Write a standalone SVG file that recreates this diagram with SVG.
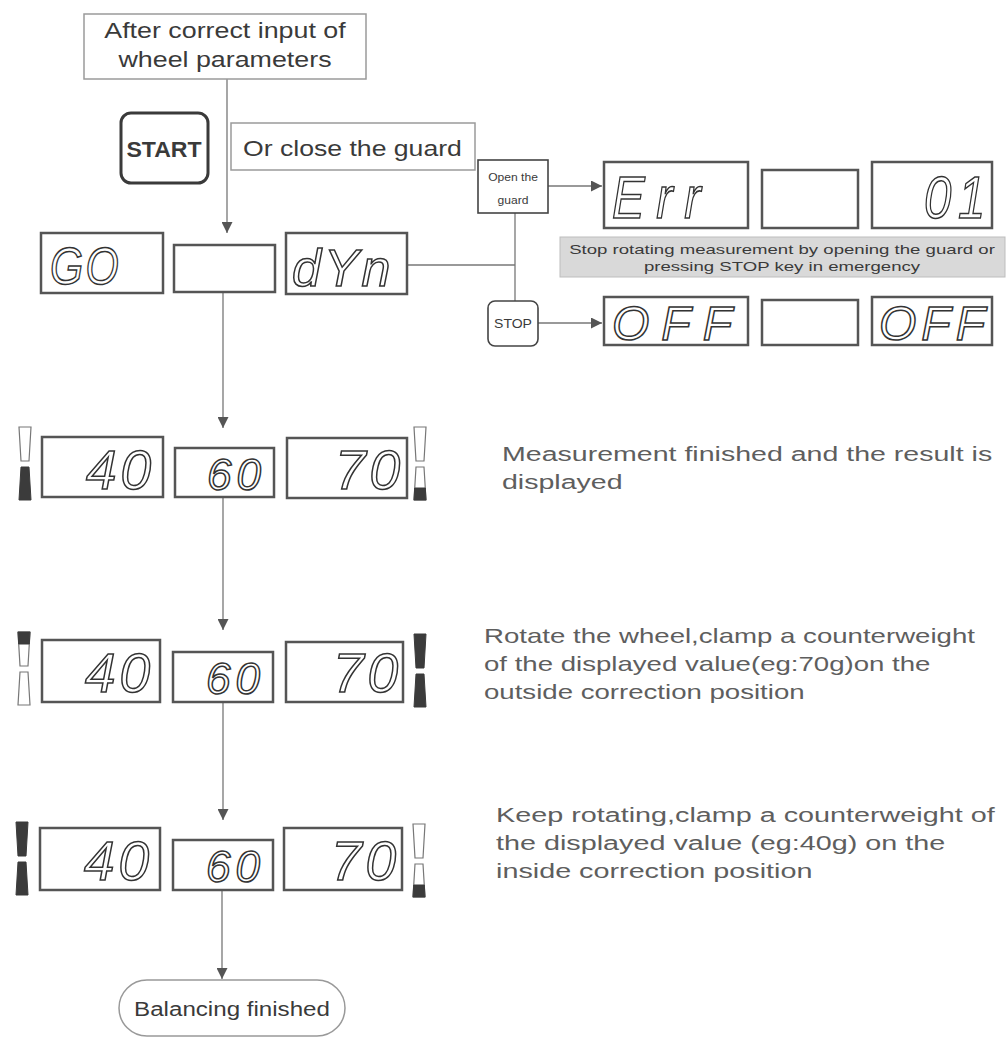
<svg xmlns="http://www.w3.org/2000/svg" xmlns:xlink="http://www.w3.org/1999/xlink" width="1008" height="1040" viewBox="0 0 1008 1040">
  <defs>
    <style>
      .lbl { font-family: "Liberation Sans", Arial, sans-serif; fill: #3a3a3a; }
      .desc { font-family: "Liberation Sans", Arial, sans-serif; fill: #5e5e5e; font-size: 21px; }
      .box { fill: #fff; stroke: #9a9a9a; stroke-width: 1.5; }
      .key { fill: #fff; stroke: #444; stroke-width: 1.6; }
      .lcd { fill: #fff; stroke: #555; stroke-width: 2.5; }
      .seg { font-family: "Liberation Sans", Arial, sans-serif; font-style: italic; fill: #fff; stroke: #333; stroke-width: 1.5; }
      .wire { fill: none; stroke: #777; stroke-width: 1.3; }
      .io { fill: #fff; stroke: #777; stroke-width: 1.2; }
      .if { fill: #3b3b3b; stroke: #3b3b3b; stroke-width: 1; }
    </style>
    <marker id="arrow" viewBox="0 0 10 10" refX="10" refY="5" markerWidth="11" markerHeight="11" markerUnits="userSpaceOnUse" orient="auto">
      <path d="M0,0 L10,5 L0,10 Z" fill="#555"/>
    </marker>
    <!-- balance indicator segments (14 x 73) -->
    <path id="iTop" d="M1,0 H13 L11,34 H3 Z"/>
    <path id="iBot" d="M3,40 H11 L13,73 H1 Z"/>
    <path id="iTopCap" d="M1,0 H13 L12.3,12 H1.7 Z"/>
    <path id="iBotCap" d="M1.7,61 H12.3 L13,73 H1 Z"/>
  </defs>

  <rect x="0" y="0" width="1008" height="1040" fill="#fff"/>

  <!-- connectors -->
  <g id="connectors">
    <line class="wire" x1="227" y1="79" x2="227" y2="233" marker-end="url(#arrow)"/>
    <line class="wire" x1="223" y1="292" x2="223" y2="428" marker-end="url(#arrow)"/>
    <line class="wire" x1="223" y1="497" x2="223" y2="630" marker-end="url(#arrow)"/>
    <line class="wire" x1="223" y1="702" x2="223" y2="820" marker-end="url(#arrow)"/>
    <line class="wire" x1="222" y1="890" x2="222" y2="979" marker-end="url(#arrow)"/>
    <polyline class="wire" points="407,265 515,265"/>
    <line class="wire" x1="515" y1="213" x2="515" y2="301"/>
    <line class="wire" x1="548" y1="186" x2="602" y2="186" marker-end="url(#arrow)"/>
    <line class="wire" x1="538" y1="323" x2="602" y2="323" marker-end="url(#arrow)"/>
  </g>

  <!-- start condition -->
  <g id="start-note">
    <rect class="box" x="84" y="14" width="282" height="65"/>
    <g transform="translate(225,0) scale(1.22,1)">
      <text class="lbl" x="0" y="38" font-size="22" text-anchor="middle">After correct input of</text>
      <text class="lbl" x="0" y="67" font-size="22" text-anchor="middle">wheel parameters</text>
    </g>
  </g>

  <g id="start-key">
    <rect x="121" y="113" width="87" height="70" rx="10" fill="#fff" stroke="#3a3a3a" stroke-width="3"/>
    <g transform="translate(164,0) scale(1.05,1)">
      <text class="lbl" x="0" y="157" font-size="22" font-weight="bold" text-anchor="middle">START</text>
    </g>
  </g>

  <g id="close-guard">
    <rect class="box" x="231" y="123" width="244" height="47"/>
    <g transform="translate(243,0) scale(1.21,1)">
      <text class="lbl" x="0" y="156" font-size="22">Or close the guard</text>
    </g>
  </g>

  <g id="open-guard">
    <rect class="key" x="478" y="160" width="70" height="53"/>
    <g transform="translate(513,0) scale(1.1,1)">
      <text class="lbl" x="0" y="181" font-size="11" text-anchor="middle">Open the</text>
      <text class="lbl" x="0" y="204" font-size="11" text-anchor="middle">guard</text>
    </g>
  </g>

  <g id="stop-key">
    <rect class="key" x="488" y="301" width="50" height="45" rx="7"/>
    <g transform="translate(513,0) scale(1.17,1)">
      <text class="lbl" x="0" y="328" font-size="12" text-anchor="middle">STOP</text>
    </g>
  </g>

  <!-- GO / dYn -->
  <g id="display-go">
    <rect class="lcd" x="41" y="233" width="122" height="60"/>
    <text class="seg" transform="translate(50,284) scale(0.82,1)" font-size="52" letter-spacing="3">GO</text>
    <rect class="lcd" x="174" y="245" width="101" height="47"/>
    <rect class="lcd" x="286" y="233" width="121" height="61"/>
    <text class="seg" x="292" y="286" font-size="52" letter-spacing="3">dYn</text>
  </g>

  <!-- error display -->
  <g id="display-err">
    <rect class="lcd" x="604" y="162" width="144" height="66"/>
    <text class="seg" transform="translate(612,218) scale(0.82,1)" font-size="60" letter-spacing="14">Err</text>
    <rect class="lcd" x="762" y="170" width="96" height="58"/>
    <rect class="lcd" x="872" y="162" width="120" height="66"/>
    <text class="seg" transform="translate(924,218) scale(0.82,1)" font-size="60" letter-spacing="8">01</text>
  </g>

  <g id="emergency-note">
    <rect x="560" y="237" width="445" height="40" fill="#d9d9d9" stroke="#bdbdbd" stroke-width="1"/>
    <g transform="translate(782,0) scale(1.55,1)">
      <text class="lbl" x="0" y="254" font-size="12" text-anchor="middle" fill="#555">Stop rotating measurement by opening the guard or</text>
      <text class="lbl" x="0" y="271" font-size="12" text-anchor="middle" fill="#555">pressing STOP key in emergency</text>
    </g>
  </g>

  <!-- OFF display -->
  <g id="display-off">
    <rect class="lcd" x="604" y="297" width="144" height="48"/>
    <text class="seg" x="612" y="340" font-size="48" letter-spacing="12">OFF</text>
    <rect class="lcd" x="762" y="300" width="96" height="45"/>
    <rect class="lcd" x="872" y="297" width="120" height="48"/>
    <text class="seg" x="879" y="340" font-size="48" letter-spacing="5">OFF</text>
  </g>

  <!-- measurement result -->
  <g id="display-result">
    <g transform="translate(18,427)">
      <use href="#iTop" class="io"/>
      <use href="#iBot" class="if"/>
    </g>
    <rect class="lcd" x="42" y="437" width="121" height="60"/>
    <text class="seg" x="86" y="489" font-size="55" letter-spacing="4">40</text>
    <rect class="lcd" x="175" y="448" width="99" height="49"/>
    <text class="seg" x="207" y="490" font-size="44" letter-spacing="5">60</text>
    <rect class="lcd" x="287" y="438" width="120" height="60"/>
    <text class="seg" x="335" y="489" font-size="55" letter-spacing="4">70</text>
    <g transform="translate(413,427)">
      <use href="#iTop" class="io"/>
      <use href="#iBot" class="io"/>
      <use href="#iBotCap" class="if"/>
    </g>
  </g>
  <g id="note-result">
    <g transform="translate(502,0) scale(1.36,1)">
      <text class="desc" x="0" y="461">Measurement finished and the result is</text>
      <text class="desc" x="0" y="489">displayed</text>
    </g>
  </g>

  <!-- outside correction -->
  <g id="display-outside">
    <g transform="translate(17,632)">
      <use href="#iTop" class="io"/>
      <use href="#iBot" class="io"/>
      <use href="#iTopCap" class="if"/>
    </g>
    <rect class="lcd" x="42" y="640" width="118" height="62"/>
    <text class="seg" x="85" y="692" font-size="55" letter-spacing="4">40</text>
    <rect class="lcd" x="173" y="652" width="100" height="50"/>
    <text class="seg" x="206" y="694" font-size="44" letter-spacing="5">60</text>
    <rect class="lcd" x="286" y="642" width="117" height="60"/>
    <text class="seg" x="333" y="692" font-size="55" letter-spacing="4">70</text>
    <g transform="translate(413,634)">
      <use href="#iTop" class="if"/>
      <use href="#iBot" class="if"/>
    </g>
  </g>
  <g id="note-outside">
    <g transform="translate(484,0) scale(1.315,1)">
      <text class="desc" x="0" y="643">Rotate the wheel,clamp a counterweight</text>
      <text class="desc" x="0" y="671">of the displayed value(eg:70g)on the</text>
      <text class="desc" x="0" y="699">outside correction position</text>
    </g>
  </g>

  <!-- inside correction -->
  <g id="display-inside">
    <g transform="translate(15,822)">
      <use href="#iTop" class="if"/>
      <use href="#iBot" class="if"/>
    </g>
    <rect class="lcd" x="40" y="828" width="120" height="62"/>
    <text class="seg" x="84" y="880" font-size="55" letter-spacing="4">40</text>
    <rect class="lcd" x="173" y="840" width="100" height="50"/>
    <text class="seg" x="206" y="882" font-size="44" letter-spacing="5">60</text>
    <rect class="lcd" x="284" y="828" width="118" height="62"/>
    <text class="seg" x="331" y="880" font-size="55" letter-spacing="4">70</text>
    <g transform="translate(412,824)">
      <use href="#iTop" class="io"/>
      <use href="#iBot" class="io"/>
      <use href="#iBotCap" class="if"/>
    </g>
  </g>
  <g id="note-inside">
    <g transform="translate(496,0) scale(1.37,1)">
      <text class="desc" x="0" y="822">Keep rotating,clamp a counterweight of</text>
      <text class="desc" x="0" y="850">the displayed value (eg:40g) on the</text>
      <text class="desc" x="0" y="878">inside correction position</text>
    </g>
  </g>

  <!-- end -->
  <g id="finished">
    <rect x="119" y="980" width="226" height="56" rx="28" fill="#fff" stroke="#999" stroke-width="1.5"/>
    <g transform="translate(232,0) scale(1.15,1)">
      <text class="lbl" x="0" y="1016" font-size="21" text-anchor="middle">Balancing finished</text>
    </g>
  </g>
</svg>
